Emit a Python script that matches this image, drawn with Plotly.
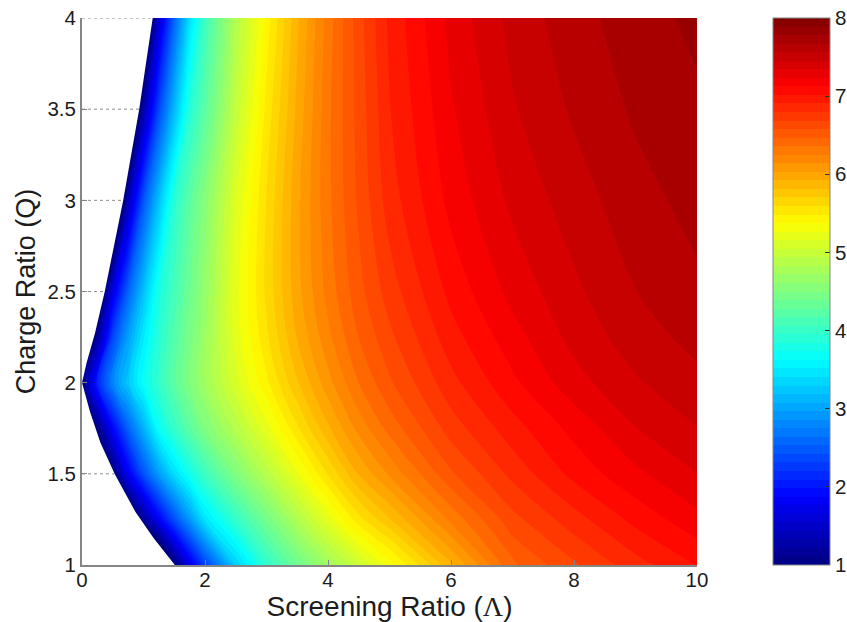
import plotly.graph_objects as go

screening = [0, .25, .5, .75, 1, 1.25, 1.5, 1.75, 2, 2.5, 3, 3.5, 4, 4.5, 5, 6, 7, 8, 9, 10]
charge = [1, 1.25, 1.5, 1.75, 2, 2.25, 2.5, 3, 3.5, 4]

z_q100 = [-3.8, -3, -2.3, -1.5, -.7, .1, .96, 1.7, 2.3, 3.3, 3.95, 4.38, 4.72, 5.03, 5.32, 5.9, 6.45, 6.67, 6.86, 7.02]
z_q125 = [-3, -2.2, -1.1, .45, 1.16, 1.82, 2.4, 2.92, 3.45, 3.98, 4.42, 4.83, 5.2, 5.55, 5.8, 6.28, 6.65, 6.86, 7.05, 7.2]
z_q150 = [-1.5, -.3, .95, 1.78, 2.42, 2.95, 3.4, 3.75, 4.05, 4.5, 4.88, 5.25, 5.6, 5.93, 6.16, 6.56, 6.83, 7.05, 7.21, 7.34]
z_q175 = [-.3, 1.05, 1.88, 2.55, 3.1, 3.68, 4.0, 4.25, 4.5, 4.87, 5.22, 5.57, 5.9, 6.18, 6.4, 6.74, 6.97, 7.16, 7.34, 7.45]
z_q200 = [1.0, 2.1, 2.8, 3.25, 3.68, 3.97, 4.25, 4.5, 4.72, 5.12, 5.46, 5.8, 6.1, 6.36, 6.56, 6.87, 7.1, 7.3, 7.44, 7.53]
z_q225 = [.1, 1.2, 2.35, 2.98, 3.5, 3.9, 4.2, 4.45, 4.7, 5.2, 5.57, 5.93, 6.22, 6.47, 6.66, 6.97, 7.19, 7.38, 7.51, 7.6]
z_q250 = [-.5, .4, 1.7, 2.55, 3.2, 3.8, 4.1, 4.38, 4.65, 5.22, 5.62, 5.99, 6.29, 6.54, 6.74, 7.05, 7.27, 7.43, 7.56, 7.65]
z_q300 = [-3, -2, -.2, 1.4, 2.45, 3.2, 3.9, 4.25, 4.55, 5.15, 5.6, 6.0, 6.33, 6.6, 6.85, 7.16, 7.37, 7.51, 7.63, 7.71]
z_q350 = [-3.5, -2.6, -1.6, -.3, 1.3, 2.35, 3.15, 3.88, 4.25, 4.97, 5.52, 5.95, 6.33, 6.62, 6.9, 7.22, 7.44, 7.58, 7.69, 7.76]
z_q400 = [-4, -3.2, -2.4, -1.3, .2, 1.55, 2.55, 3.42, 4.05, 4.85, 5.42, 5.9, 6.3, 6.64, 6.93, 7.27, 7.49, 7.63, 7.73, 7.81]

edge_x = [1.51, 1.16, .87, .53, .30, .13, 0, .076, .21, .37, .52, .67, .8, .93, 1.04, 1.15]
edge_q = [1, 1.15, 1.29, 1.5, 1.67, 1.84, 2, 2.11, 2.27, 2.5, 2.75, 3, 3.25, 3.5, 3.75, 4]

grid_q = [1.5, 2.5, 3, 3.5, 4]
grid_end = [.53, .37, .67, .93, 1.15]

x_ticks = [0, 2, 4, 6, 8, 10]
y_ticks = [1, 1.5, 2, 2.5, 3, 3.5, 4]
y_labels = ["1", "1.5", "2", "2.5", "3", "3.5", "4"]
bar_ticks = [1, 2, 3, 4, 5, 6, 7, 8]

jet = [[0, "rgb(0,0,128)"], [.125, "rgb(0,0,255)"], [.375, "rgb(0,255,255)"],
       [.625, "rgb(255,255,0)"], [.875, "rgb(255,0,0)"], [1, "rgb(128,0,0)"]]
FONT = "Liberation Sans, Arial, sans-serif"
INK = "#1c1c1c"
AXIS = "#858585"

fig = go.Figure()
fig.add_trace(go.Contour(
    x=screening, y=charge,
    z=[z_q100, z_q125, z_q150, z_q175, z_q200, z_q225, z_q250, z_q300, z_q350, z_q400],
    colorscale=jet, zmin=1, zmax=8, autocontour=False,
    contours=dict(start=1, end=8, size=7 / 64, coloring="fill", showlines=False),
    line=dict(width=0, smoothing=1),
    colorbar=dict(
        x=(773 - 82) / 615, xanchor="left", xpad=0, y=0, yanchor="bottom", ypad=0,
        len=1, lenmode="fraction", thickness=57, thicknessmode="pixels",
        tickmode="array", tickvals=bar_ticks, ticks="inside", ticklen=5, tickcolor="#333",
        tickfont=dict(family=FONT, size=20.5, color=INK),
        outlinecolor=AXIS, outlinewidth=1, borderwidth=0),
))
# the region without a solution stays blank
fig.add_trace(go.Scatter(x=edge_x, y=edge_q, mode="lines", line=dict(width=0, color="white"),
                         fill="tozerox", fillcolor="white", hoverinfo="skip", showlegend=False))
grid_x, grid_y = [], []
for q, end in zip(grid_q, grid_end):
    grid_x += [0, end, None]
    grid_y += [q, q, None]
fig.add_trace(go.Scatter(x=grid_x, y=grid_y, mode="lines", cliponaxis=False,
                         line=dict(width=1, color="#8c8c8c", dash="dot"),
                         hoverinfo="skip", showlegend=False))

fig.update_layout(
    width=880, height=627, autosize=False,
    margin=dict(l=82, r=183, t=23, b=56.5, pad=0),
    paper_bgcolor="white", plot_bgcolor="white",
    font=dict(family=FONT, color=INK),
    showlegend=False,
    xaxis=dict(range=[0, 10], tickmode="array", tickvals=x_ticks, ticks="inside", ticklen=5,
               ticklabelstandoff=-5,
               tickcolor=AXIS, showgrid=False, zeroline=False, showline=True, linecolor=AXIS,
               linewidth=2, layer="above traces", tickfont=dict(size=20.5, color=INK),
               title=dict(text='Screening Ratio (<span style="font-family:Liberation Serif">Λ</span>)',
                          font=dict(size=28, color=INK), standoff=0)),
    yaxis=dict(range=[1, 4], tickmode="array", tickvals=y_ticks, ticktext=y_labels, ticks="inside",
               ticklen=5, tickcolor=AXIS, showgrid=False, zeroline=False, showline=True,
               linecolor=AXIS, linewidth=2, layer="above traces", tickfont=dict(size=20.5, color=INK),
               title=dict(text="Charge Ratio (Q)", font=dict(size=27, color=INK), standoff=4)),
)
fig.write_html("out.html", config=dict(displayModeBar=False),
               post_script="document.body.style.margin='-5px 0 0 0';document.documentElement.style.overflow='hidden';document.body.style.overflow='hidden';")
